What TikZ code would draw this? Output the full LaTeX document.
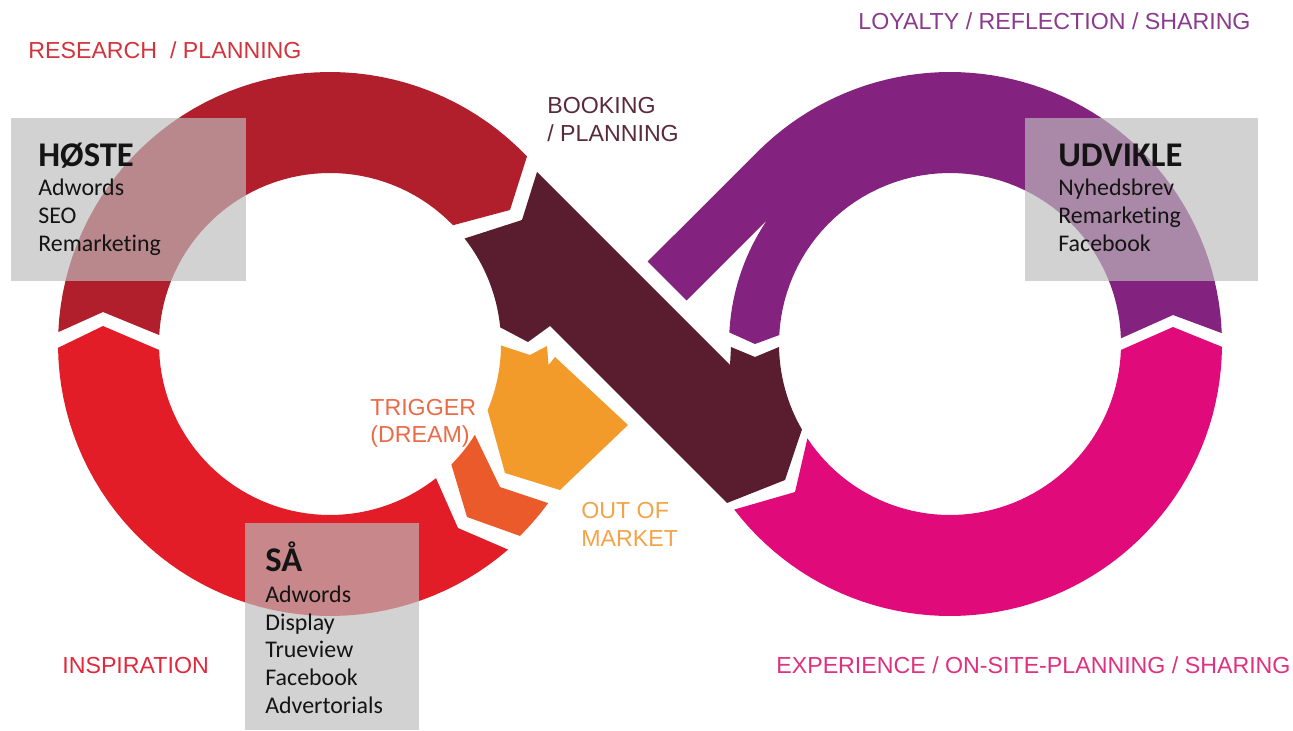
\documentclass[tikz,border=0pt]{standalone}
\usepackage{fontspec}
\setmainfont{Liberation Sans}
\newfontfamily\boxf[Ligatures=NoCommon]{Carlito}
\definecolor{cDarkRed}{HTML}{B21F2C}
\definecolor{cRed}{HTML}{E31D27}
\definecolor{cOrRed}{HTML}{EB5A2B}
\definecolor{cOrange}{HTML}{F39B2A}
\definecolor{cDark}{HTML}{5A1D2F}
\definecolor{cPurple}{HTML}{84237F}
\definecolor{cPink}{HTML}{E10A7B}
\definecolor{panelgray}{HTML}{BCBCBC}
\definecolor{tResearch}{HTML}{D1343D}
\definecolor{tLoyal}{HTML}{8B3A8E}
\definecolor{tBook}{HTML}{5A2A3B}
\definecolor{tTrig}{HTML}{EC6B47}
\definecolor{tOut}{HTML}{F3A448}
\definecolor{tInsp}{HTML}{E1283C}
\definecolor{tExp}{HTML}{DF317F}
\definecolor{boxtext}{HTML}{141414}
\tikzset{
  lbl/.style={font=\fontsize{13.2}{15}\selectfont, anchor=base west, inner sep=0pt},
  boxhead/.style={font=\boxf\fontsize{19.7}{22}\selectfont\bfseries, anchor=base west, inner sep=0pt, text=boxtext},
  boxitem/.style={font=\boxf\fontsize{13.6}{16}\selectfont, anchor=base west, inner sep=0pt, text=boxtext},
  panel/.style={fill=panelgray, fill opacity=0.67}
}
\begin{document}
\begin{tikzpicture}[x=0.02cm,y=-0.02cm]
\useasboundingbox (0,0) rectangle (1293,730);
\fill[white] (0,0) rectangle (1293,730);

% ---- left ring ----
\fill[cDarkRed] plot[domain=182.5:316.4,samples=50] ({330+272*cos(\x)},{344+272*sin(\x)})
  -- (510,210)
  -- plot[domain=316:183,samples=50] ({330+171*cos(\x)},{344+171*sin(\x)})
  -- (103,312) -- cycle;
\fill[cRed] plot[domain=179.2:49.1,samples=50] ({330+272*cos(\x)},{344+272*sin(\x)})
  -- (458,528)
  -- plot[domain=51.7:178,samples=50] ({330+171*cos(\x)},{344+171*sin(\x)})
  -- (103,326) -- cycle;
\fill[cOrRed] plot[domain=32.1:44.8,samples=10] ({330+171*cos(\x)},{344+171*sin(\x)})
  -- (467,517)
  -- plot[domain=45.3:36.1,samples=10] ({330+270*cos(\x)},{344+270*sin(\x)})
  -- (500,487) -- cycle;
\fill[cOrange] (530,355) -- (547,346) -- (548.5,365) -- (555,357) -- (628,425) -- (560,490) -- (505,473)
  -- plot[domain=22.8:0.5,samples=12] ({330+171*cos(\x)},{344+171*sin(\x)}) -- cycle;

% ---- crossing band ----
\fill[cDark] (537,172) -- (522,220)
  -- plot[domain=-38.1:-5.6,samples=30] ({330+171*cos(\x)},{344+171*sin(\x)})
  -- (528,342) -- (550,326) -- (727,503) -- (785,480)
  -- plot[domain=150:179,samples=20] ({950+171*cos(\x)},{344+171*sin(\x)})
  -- (755,357) -- (731,347) -- (730,365) -- cycle;

% ---- right ring ----
\fill[cPurple] plot[domain=225:357.7,samples=60] ({950+272*cos(\x)},{344+272*sin(\x)})
  -- (1173,315)
  -- plot[domain=358.1:183,samples=60] ({950+171*cos(\x)},{344+171*sin(\x)})
  -- (755,344)
  -- plot[domain=183:214.1,samples=15] ({950+221*cos(\x)},{344+221*sin(\x)})
  -- (686.5,300.5) -- (647.6,261.6) -- cycle;
\fill[cPink] plot[domain=0.6:142.5,samples=60] ({950+272*cos(\x)},{344+272*sin(\x)})
  -- (795,492)
  -- plot[domain=146.5:2,samples=60] ({950+171*cos(\x)},{344+171*sin(\x)})
  -- (1173,327) -- cycle;

% ---- panels ----
\fill[panel] (11,118) rectangle (246,281);
\fill[panel] (1025,118) rectangle (1258,281);
\fill[panel] (245,523) rectangle (419,730);

% ---- panel texts ----
\node[boxhead] (hoste) at (38,166) {HØSTE};
\node[boxitem] (h1) at (38,195) {Adwords};
\node[boxitem] (h2) at (38,223) {SEO};
\node[boxitem] (h3) at (38,251) {Remarketing};

\node[boxhead] (udvikle) at (1058,166) {UDVIKLE};
\node[boxitem] (u1) at (1058,195) {Nyhedsbrev};
\node[boxitem] (u2) at (1058,223) {Remarketing};
\node[boxitem] (u3) at (1058,251) {Facebook};

\node[boxhead] (saa) at (265,571) {SÅ};
\node[boxitem] (s1) at (265,602) {Adwords};
\node[boxitem] (s2) at (265,630) {Display};
\node[boxitem] (s3) at (265,657) {Trueview};
\node[boxitem] (s4) at (265,685) {Facebook};
\node[boxitem] (s5) at (265,713) {Advertorials};

% ---- stage labels ----
\node[lbl, text=tResearch] (research) at (28,58) {RESEARCH \ / PLANNING};
\node[lbl, text=tLoyal] (loyalty) at (858,30) {LOYALTY / REFLECTION / SHARING};
\node[lbl, text=tBook] (booking1) at (547,113) {BOOKING};
\node[lbl, text=tBook] (booking2) at (547,141) {/ PLANNING};
\node[lbl, text=tTrig] (trigger1) at (370,415) {TRIGGER};
\node[lbl, text=tTrig] (trigger2) at (370,442) {(DREAM)};
\node[lbl, text=tOut] (out1) at (581,518) {OUT OF};
\node[lbl, text=tOut] (out2) at (581,546) {MARKET};
\node[lbl, text=tInsp] (insp) at (62,673) {INSPIRATION};
\node[lbl, text=tExp] (exp) at (776,673) {EXPERIENCE / ON-SITE-PLANNING / SHARING};
\end{tikzpicture}
\end{document}
